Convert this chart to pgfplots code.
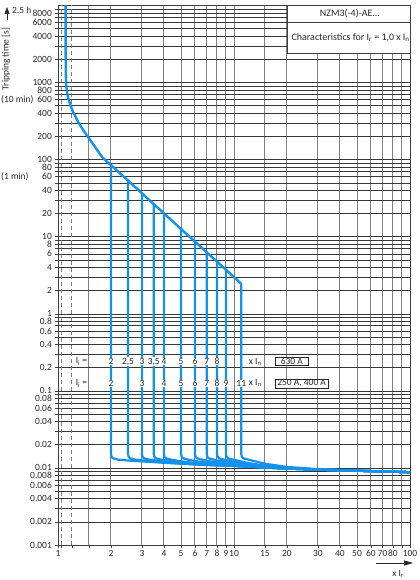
\documentclass[border=0pt]{standalone}
\usepackage{fontspec}
\setmainfont{Carlito}
\usepackage{pgfplots}
\pgfplotsset{compat=1.18}
\usetikzlibrary{arrows.meta}
\definecolor{curve}{RGB}{20,145,235}
\definecolor{txt}{RGB}{40,40,40}
\tikzset{lab/.style={fill=white, inner sep=0.5bp}}
\begin{document}
\begin{tikzpicture}[font=\fontsize{9.5}{10}\selectfont, text=txt]
\begin{axis}[
  at={(0,0)}, anchor=south west,
  scale only axis, width=352bp, height=539.5bp,
  xmode=log, ymode=log,
  xmin=1, xmax=100, ymin=0.001, ymax=10000,
  xtick={1,2,3,4,5,6,7,8,9,10,15,20,30,40,50,60,70,80,90,100},
  xticklabels={1,2,3,4,5,6,7,8,9,10,15,20,30,40,50,60,70,80,{},100},
  minor xtick={1.5},
  ytick={0.001,0.002,0.004,0.006,0.008,0.01,0.02,0.04,0.06,0.08,0.1,0.2,0.4,0.6,0.8,1,2,4,6,8,10,20,40,60,80,100,200,400,600,800,1000,2000,4000,6000,8000},
  yticklabels={0.001,0.002,0.004,0.006,0.008,0.01,0.02,0.04,0.06,0.08,0.1,0.2,0.4,0.6,0.8,1,2,4,6,8,10,20,40,60,80,100,200,400,600,800,1000,2000,4000,6000,8000},
  minor ytick={0.003,0.005,0.007,0.009,0.03,0.05,0.07,0.09,0.3,0.5,0.7,0.9,3,5,7,9,30,50,70,90,300,500,700,900,3000,5000,7000,9000},
  grid=both,
  grid style={line width=0.55bp, black!65},
  every axis x grid/.style={black!50, line width=1bp},
  every axis y grid/.style={black!78, line width=0.55bp},
  axis line style={black!75, line width=0.8bp},
  xtick pos=bottom, ytick pos=left,
  tick align=outside,
  major tick length=3bp, minor tick length=3bp,
  every tick/.style={black!75, line width=0.55bp},
  tick label style={font=\fontsize{9.5}{10}\selectfont, text=txt},
  xticklabel style={inner sep=2bp},
  yticklabel style={inner xsep=3bp, inner ysep=0.2bp},
  extra x ticks={1.05,1.2},
  extra x tick labels={},
  extra x tick style={major grid style={black!85, line width=0.6bp, dash pattern=on 4bp off 3bp}},
  clip=false,
]
% overload characteristic
\addplot[curve, line width=2.4bp, line join=round] coordinates {
(1.105,10000) (1.105,3000) (1.107,1500) (1.11,1100) (1.115,900) (1.125,750) (1.14,650) (1.155,580) (1.18,500) (1.21,430) (1.25,370) (1.30,310) (1.37,255) (1.45,210) (1.55,170) (1.66,136) (1.78,108) (1.9,94) (2,85) (2.5,53.4) (3,36.6) (3.5,26.5) (4,20.1) (5,12.6) (6,8.66) (7,6.28) (8,4.75) (9,3.72) (11,2.45)};
% instantaneous releases
\addplot[curve, line width=2.2bp, line join=round] coordinates {
(2,85) (2,0.0150) (2.02,0.0138) (2.06,0.0133) (2.2,0.0128) (2.5,0.01247) (3,0.01215) (4,0.01166) (5,0.01133) (6,0.0111) (7,0.0109) (8,0.0108) (10,0.0106) (12,0.0104) (15,0.0101) (20,0.0098) (30,0.0095) (50,0.0092) (100,0.0088)};
\addplot[curve, line width=2.2bp, line join=round] coordinates {
(2.5,53.4) (2.5,0.0150) (2.525,0.0138) (2.575,0.0133) (2.75,0.0128) (3,0.01254) (4,0.01182) (5,0.01141) (6,0.01116) (7,0.01094) (8,0.01083) (10,0.0106) (12,0.0104) (15,0.0101) (20,0.0098) (30,0.0095) (50,0.0092) (100,0.0088)};
\addplot[curve, line width=2.2bp, line join=round] coordinates {
(3,36.6) (3,0.0150) (3.03,0.0138) (3.09,0.0133) (3.3,0.0128) (4,0.01210) (5,0.01155) (6,0.01124) (7,0.01099) (8,0.01086) (10,0.01063) (12,0.01042) (15,0.0101) (20,0.0098) (30,0.0095) (50,0.0092) (100,0.0088)};
\addplot[curve, line width=2.2bp, line join=round] coordinates {
(3.5,26.5) (3.5,0.0150) (3.535,0.0138) (3.605,0.0133) (3.85,0.0128) (4,0.01262) (5,0.01181) (6,0.01139) (7,0.01108) (8,0.01092) (10,0.01066) (12,0.01043) (15,0.01012) (20,0.0098) (30,0.0095) (50,0.0092) (100,0.0088)};
\addplot[curve, line width=2.2bp, line join=round] coordinates {
(4,20.1) (4,0.0150) (4.04,0.0138) (4.12,0.0133) (4.4,0.0128) (5,0.01217) (6,0.01159) (7,0.01121) (8,0.01100) (10,0.01070) (12,0.01046) (15,0.01013) (20,0.00981) (30,0.0095) (50,0.0092) (100,0.0088)};
\addplot[curve, line width=2.2bp, line join=round] coordinates {
(5,12.6) (5,0.0150) (5.05,0.0138) (5.15,0.0133) (5.5,0.0128) (6,0.01232) (7,0.01166) (8,0.01130) (10,0.01085) (12,0.01054) (15,0.01017) (20,0.00983) (30,0.00951) (50,0.0092) (100,0.0088)};
\addplot[curve, line width=2.2bp, line join=round] coordinates {
(6,8.66) (6,0.0150) (6.06,0.0138) (6.18,0.0133) (6.6,0.0128) (7,0.01240) (8,0.01179) (10,0.01110) (12,0.01068) (15,0.01024) (20,0.00986) (30,0.00952) (50,0.0092) (100,0.0088)};
\addplot[curve, line width=2.2bp, line join=round] coordinates {
(7,6.28) (7,0.0150) (7.07,0.0138) (7.21,0.0133) (7.7,0.0128) (8,0.01253) (10,0.01147) (12,0.01089) (15,0.01035) (20,0.00990) (30,0.00953) (50,0.0092) (100,0.0088)};
\addplot[curve, line width=2.2bp, line join=round] coordinates {
(8,4.75) (8,0.0150) (8.08,0.0138) (8.24,0.0133) (8.8,0.0128) (10,0.01200) (12,0.01120) (15,0.01050) (20,0.00996) (30,0.00955) (50,0.0092) (100,0.0088)};
\addplot[curve, line width=2.2bp, line join=round] coordinates {
(9,3.72) (9,0.0150) (9.09,0.0138) (9.27,0.0133) (9.9,0.0128) (12,0.01160) (15,0.01070) (20,0.01004) (30,0.00957) (50,0.00921) (100,0.0088)};
\addplot[curve, line width=2.2bp, line join=round] coordinates {
(11,2.45) (11,0.0150) (11.11,0.0138) (11.33,0.0133) (12.1,0.0128) (15,0.01133) (20,0.01030) (30,0.00964) (50,0.00923) (100,0.0088)};
% title box
\draw[black!75, line width=0.7bp, fill=white] (axis cs:20,2400) rectangle (axis cs:100,10000);
\draw[black!75, line width=0.7bp] (axis cs:20,6000) -- (axis cs:100,6000);
\node[font=\fontsize{10}{11}\selectfont] at (axis cs:45.6,7900) {NZM3(-4)-AE...};
\node[font=\fontsize{10}{11}\selectfont] at (axis cs:46,3850) {Characteristics for I\textsubscript{r} = 1,0 x I\textsubscript{n}};
% row 1 (630 A)
\node[lab, anchor=west] at (axis cs:1.25,0.24) {I\textsubscript{i} =};
\node[lab] at (axis cs:2,0.24) {2};
\node[lab] at (axis cs:2.5,0.24) {2,5};
\node[lab] at (axis cs:3,0.24) {3};
\node[lab] at (axis cs:3.5,0.24) {3,5};
\node[lab] at (axis cs:4,0.24) {4};
\node[lab] at (axis cs:5,0.24) {5};
\node[lab] at (axis cs:6,0.24) {6};
\node[lab] at (axis cs:7,0.24) {7};
\node[lab] at (axis cs:8,0.24) {8};
\node[lab] at (axis cs:13.2,0.24) {x I\textsubscript{n}};
\node[draw=black!85, line width=0.7bp, fill=white, inner xsep=5.5bp, inner ysep=0.8bp, anchor=west] at (axis cs:17.1,0.24) {630 A};
% row 2 (250 A, 400 A)
\node[lab, anchor=west] at (axis cs:1.25,0.125) {I\textsubscript{i} =};
\node[lab] at (axis cs:2,0.125) {2};
\node[lab] at (axis cs:3,0.125) {3};
\node[lab] at (axis cs:4,0.125) {4};
\node[lab] at (axis cs:5,0.125) {5};
\node[lab] at (axis cs:6,0.125) {6};
\node[lab] at (axis cs:7,0.125) {7};
\node[lab] at (axis cs:8,0.125) {8};
\node[lab] at (axis cs:9,0.125) {9};
\node[lab] at (axis cs:11,0.125) {11};
\node[lab] at (axis cs:13.2,0.125) {x I\textsubscript{n}};
\node[draw=black!85, line width=0.7bp, fill=white, inner xsep=2bp, inner ysep=0.8bp, anchor=west] at (axis cs:17.1,0.125) {250 A, 400 A};
% time annotations
\node[anchor=west, inner sep=0pt] at ([xshift=-57bp]axis cs:1,600) {(10 min)};
\node[anchor=west, inner sep=0pt] at ([xshift=-57bp]axis cs:1,60) {(1 min)};
\end{axis}
% y axis label with arrow
\node[rotate=90, inner sep=0.5bp] at (-52bp,486bp) {Tripping time [s]};
\draw[black!85, line width=0.7bp, -{Triangle[length=7bp,width=5bp]}] (-51bp,525bp) -- (-51bp,538bp);
\node[anchor=west, inner sep=0pt] at (-46bp,535bp) {2.5 h};
% x axis label with arrow
\draw[black!85, line width=0.7bp, -{Triangle[length=9bp,width=5bp]}] (318bp,-18bp) -- (355bp,-18bp);
\node at (340bp,-29bp) {x I\textsubscript{r}};
\pgfresetboundingbox
\path[use as bounding box] (-58bp,-35bp) rectangle (362bp,545bp);
\end{tikzpicture}
\end{document}
